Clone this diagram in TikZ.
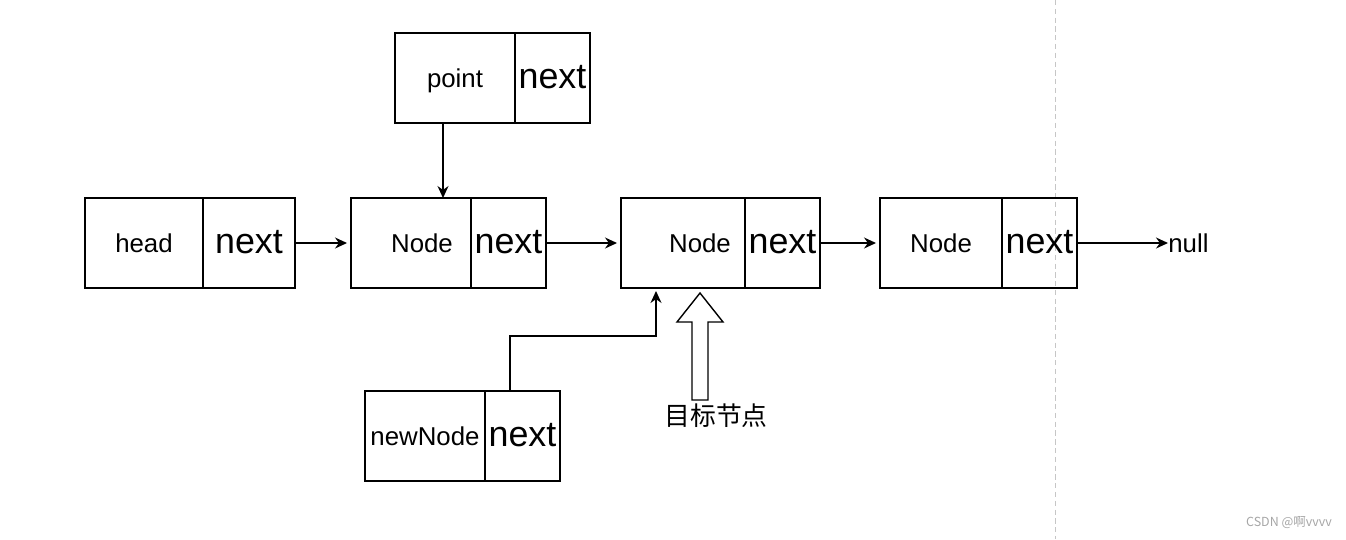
\documentclass[tikz,border=0pt]{standalone}
\usepackage{fontspec}
\setmainfont{Liberation Sans}
\newfontfamily\cjk{Noto Sans CJK SC}
\usetikzlibrary{positioning,arrows.meta}

\begin{document}
\begin{tikzpicture}[x=0.02cm, y=-0.02cm]
  \tikzstyle{databox} = [draw, line width=0.8pt, minimum height=1.8cm, inner sep=0pt, outer sep=0pt,
                         text height=1.1em, text depth=0em,
                         font=\fontsize{14.7}{17}\selectfont]
  \tikzstyle{nextbox} = [databox, text height=1.25em, font=\fontsize{20.4}{24}\selectfont]
  \tikzstyle{link} = [-{Stealth[length=0.24cm, width=0.22cm]}, line width=0.8pt]

  \useasboundingbox (0,0) rectangle (1346,539);

  % Dashed page border
  \draw[gray!45, dash pattern=on 3pt off 2pt] (1055,0) -- (1055,539);

  % Draw the list
  \foreach \name/\x/\w/\txt/\nw in {head/144/2.36cm/head/1.84cm,
                                    n1/411/2.4cm/{\hspace{0.44cm}Node}/1.5cm,
                                    n2/683/2.48cm/{\hspace{0.68cm}Node}/1.5cm,
                                    n3/941/2.44cm/Node/1.5cm}
    {
    \node[databox, minimum width=\w] (\name) at (\x,243) {\txt};
    \node[nextbox, minimum width=\nw, right=0pt of \name] (\name-next) {next};
    }

  % Draw point and newNode
  \node[databox, minimum width=2.4cm] (point) at (455,78) {point};
  \node[nextbox, minimum width=1.5cm, right=0pt of point] (point-next) {next};
  \node[databox, minimum width=2.4cm] (new) at (425,436) {newNode};
  \node[nextbox, minimum width=1.5cm, right=0pt of new] (new-next) {next};

  \node[anchor=west, inner sep=0pt, font=\fontsize{14.7}{17}\selectfont] (null) at (1168,243) {null};

  % Connections
  \foreach \a/\b in {head/n1, n1/n2, n2/n3}
    \draw[link, shorten >=0.08cm] (\a-next.east) -- (\b.west);
  \draw[link] (n3-next.east) -- (null.west);
  \draw[link] ([xshift=-0.24cm]point.south) -- ([xshift=-0.24cm]point.south |- n1.north);
  \draw[link] ([xshift=-0.25cm]new-next.north) -- ++(0,-55)
    -| ([xshift=-0.54cm, yshift=-0.06cm]n2.south);

  % Target pointer
  \draw[line width=0.8pt, fill=white] ([xshift=0.34cm, yshift=-0.1cm]n2.south)
    -- ++(-23,29) -- ++(15,0) -- ++(0,78) -- ++(16,0) -- ++(0,-78) -- ++(15,0) -- cycle;
  \node[font=\cjk\fontsize{14.7}{17}\selectfont] (target) at (716,416) {目标节点};

  \node[text=gray!70, font=\cjk\fontsize{7.1}{8}\selectfont] (wm) at (1289,523) {CSDN @啊vvvv};
\end{tikzpicture}
\end{document}
